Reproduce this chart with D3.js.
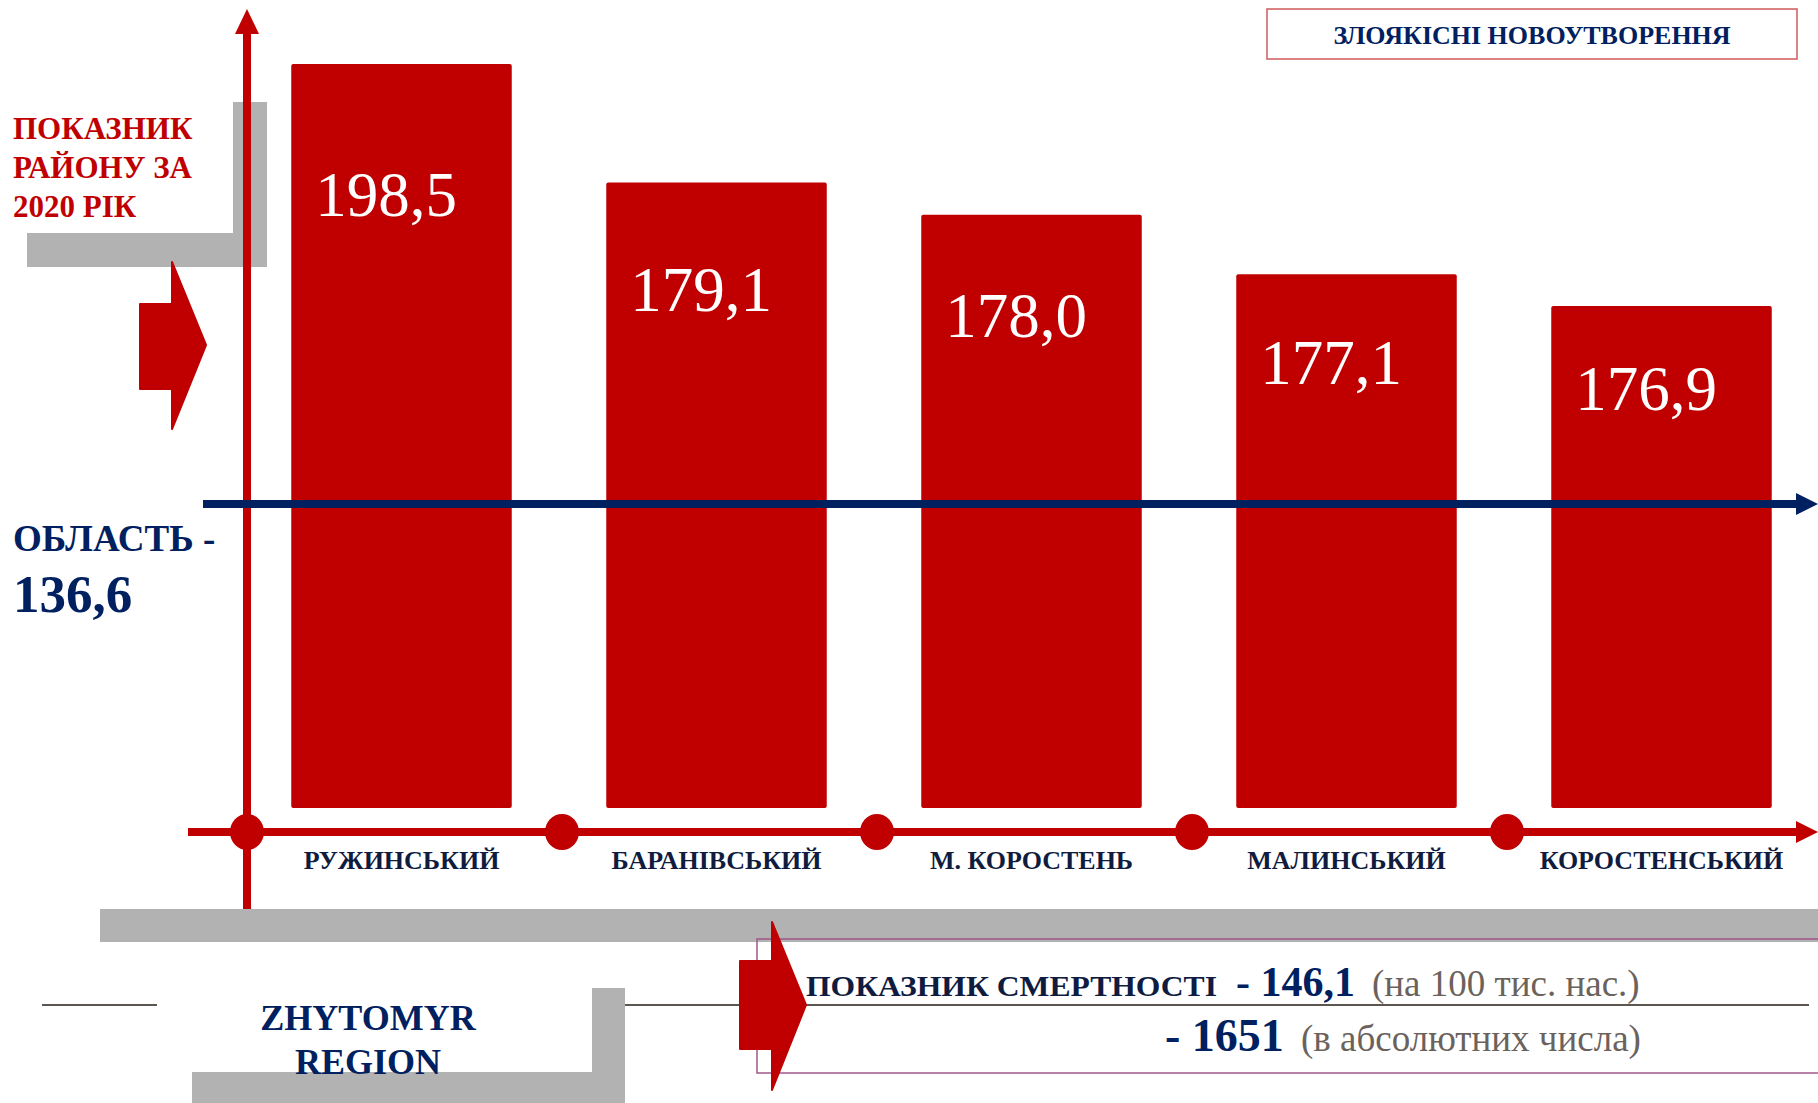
<!DOCTYPE html>
<html>
<head>
<meta charset="utf-8">
<script src="https://cdn.jsdelivr.net/npm/d3@7"></script>
<style>
  body { margin: 0; background: #fff; }
  svg { display: block; font-family: "Liberation Serif", "Times New Roman", serif; }
</style>
</head>
<body>
<svg id="chart" width="1818" height="1103"></svg>
<script>
const districts = ["РУЖИНСЬКИЙ", "БАРАНІВСЬКИЙ", "М. КОРОСТЕНЬ", "МАЛИНСЬКИЙ", "КОРОСТЕНСЬКИЙ"];
const rates = [198.5, 179.1, 178.0, 177.1, 176.9];
const regionRate = 136.6;
const deathRate = 146.1;
const deathCount = 1651;

const red = "#c00000";
const navy = "#002060";
const darkNavy = "#0f1c3f";
const gray = "#b2b2b2";

const svg = d3.select("#chart");
const width = +svg.attr("width");

const data = districts.map((name, i) => ({ name, value: rates[i] }));
const fmt = v => d3.format(".1f")(v).replace(".", ",");

const x = d3.scaleBand()
  .domain(districts)
  .range([244, 1819])
  .paddingInner(0.3)
  .paddingOuter(0.15);

const gapHalf = x.step() * 0.15;
const axisX = x(districts[0]) - gapHalf + 3;
const baseY = 832;
const barBottom = 808;

// bars in the source are a stylised staircase, so heights use a log scale
// over the excess above a floor value instead of a zero-based linear scale
const floorValue = 176.65;
const y = d3.scaleLog()
  .domain([d3.min(rates) - floorValue, d3.max(rates) - floorValue])
  .range([306, 64]);

// grey bracket behind the left caption
svg.append("path")
  .attr("d", "M233,102 H267 V267 H27 V233 H233 Z")
  .attr("fill", gray);

svg.append("text")
  .attr("fill", red)
  .attr("font-weight", "bold")
  .attr("font-size", 31)
  .selectAll("tspan")
  .data(["ПОКАЗНИК", "РАЙОНУ ЗА", "2020 РІК"])
  .enter()
  .append("tspan")
  .attr("x", 13)
  .attr("y", (d, i) => 139 + i * 39)
  .text(d => d);

// left red block arrow
svg.append("path")
  .attr("d", "M140,304 H172 V262 L206,345 L172,429 V389 H140 Z")
  .attr("fill", red)
  .attr("stroke", red)
  .attr("stroke-linejoin", "round")
  .attr("stroke-width", 2);

// vertical axis
svg.append("line")
  .attr("x1", axisX).attr("x2", axisX)
  .attr("y1", 30).attr("y2", 910)
  .attr("stroke", red)
  .attr("stroke-width", 8);

svg.append("path")
  .attr("d", `M${axisX - 12},34 L${axisX},9 L${axisX + 12},34 Z`)
  .attr("fill", red);

// bars
svg.selectAll(".bar")
  .data(data)
  .enter()
  .append("rect")
  .attr("class", "bar")
  .attr("x", d => x(d.name))
  .attr("y", d => y(d.value - floorValue))
  .attr("width", x.bandwidth())
  .attr("height", d => barBottom - y(d.value - floorValue))
  .attr("rx", 2)
  .attr("fill", red);

svg.selectAll(".bar-label")
  .data(data)
  .enter()
  .append("text")
  .attr("class", "bar-label")
  .attr("x", d => x(d.name) + 24)
  .attr("y", d => 0.8 * y(d.value - floorValue) + 165)
  .attr("fill", "#fff")
  .attr("font-size", 63)
  .text(d => fmt(d.value));

// regional level line
svg.append("line")
  .attr("x1", 203).attr("x2", width - 18)
  .attr("y1", 504).attr("y2", 504)
  .attr("stroke", navy)
  .attr("stroke-width", 8);

svg.append("path")
  .attr("d", `M${width - 22},493 L${width},504 L${width - 22},515 Z`)
  .attr("fill", navy);

svg.append("text")
  .attr("x", 13)
  .attr("y", 551)
  .attr("fill", navy)
  .attr("font-weight", "bold")
  .attr("font-size", 37)
  .text("ОБЛАСТЬ -");

svg.append("text")
  .attr("x", 13)
  .attr("y", 612)
  .attr("fill", navy)
  .attr("font-weight", "bold")
  .attr("font-size", 53)
  .text(fmt(regionRate));

// horizontal axis with markers between districts
svg.append("line")
  .attr("x1", 188).attr("x2", width - 18)
  .attr("y1", baseY).attr("y2", baseY)
  .attr("stroke", red)
  .attr("stroke-width", 8);

svg.append("path")
  .attr("d", `M${width - 22},821 L${width},${baseY} L${width - 22},843 Z`)
  .attr("fill", red);

svg.selectAll(".marker")
  .data(districts)
  .enter()
  .append("ellipse")
  .attr("class", "marker")
  .attr("cx", d => x(d) - gapHalf + 3)
  .attr("cy", baseY)
  .attr("rx", 17)
  .attr("ry", 18)
  .attr("fill", red);

svg.selectAll(".cat-label")
  .data(districts)
  .enter()
  .append("text")
  .attr("class", "cat-label")
  .attr("x", d => x(d) + x.bandwidth() / 2)
  .attr("y", 869)
  .attr("text-anchor", "middle")
  .attr("fill", darkNavy)
  .attr("font-weight", "bold")
  .attr("font-size", 26)
  .text(d => d);

// title box
svg.append("rect")
  .attr("x", 1267).attr("y", 9)
  .attr("width", 530).attr("height", 50)
  .attr("fill", "#fff")
  .attr("stroke", "#d05a5a")
  .attr("stroke-width", 1.5);

svg.append("text")
  .attr("x", 1532)
  .attr("y", 44)
  .attr("text-anchor", "middle")
  .attr("fill", navy)
  .attr("font-weight", "bold")
  .attr("font-size", 26)
  .text("ЗЛОЯКІСНІ НОВОУТВОРЕННЯ");

// bottom band
svg.append("rect")
  .attr("x", 100).attr("y", 909)
  .attr("width", width - 100).attr("height", 33)
  .attr("fill", gray);

svg.append("line")
  .attr("x1", 42).attr("x2", 157)
  .attr("y1", 1005).attr("y2", 1005)
  .attr("stroke", "#5c5650")
  .attr("stroke-width", 2);

svg.append("line")
  .attr("x1", 592).attr("x2", 1809)
  .attr("y1", 1005).attr("y2", 1005)
  .attr("stroke", "#5c5650")
  .attr("stroke-width", 2);

svg.append("path")
  .attr("d", "M592,988 H625 V1103 H192 V1072 H592 Z")
  .attr("fill", gray);

svg.append("text")
  .attr("x", 368)
  .attr("text-anchor", "middle")
  .attr("fill", navy)
  .attr("font-weight", "bold")
  .attr("font-size", 36)
  .selectAll("tspan")
  .data(["ZHYTOMYR", "REGION"])
  .enter()
  .append("tspan")
  .attr("x", 368)
  .attr("y", (d, i) => 1030 + i * 44)
  .text(d => d);

// mortality box and arrow
svg.append("rect")
  .attr("x", 757).attr("y", 939)
  .attr("width", width - 757 + 5).attr("height", 134)
  .attr("fill", "none")
  .attr("stroke", "#a0588a")
  .attr("stroke-width", 1.5);

svg.append("path")
  .attr("d", "M740,961 H772 V922 L806,1005 L772,1090 V1049 H740 Z")
  .attr("fill", red)
  .attr("stroke", red)
  .attr("stroke-linejoin", "round")
  .attr("stroke-width", 2);

svg.append("text")
  .attr("x", 806).attr("y", 996)
  .attr("fill", darkNavy)
  .attr("font-weight", "bold")
  .attr("font-size", 30)
  .attr("textLength", 411)
  .attr("lengthAdjust", "spacingAndGlyphs")
  .text("ПОКАЗНИК СМЕРТНОСТІ");

svg.append("text")
  .attr("x", 1236).attr("y", 996)
  .attr("fill", navy)
  .attr("font-weight", "bold")
  .attr("font-size", 42)
  .text("- " + fmt(deathRate));

svg.append("text")
  .attr("x", 1372).attr("y", 996)
  .attr("fill", "#6b625c")
  .attr("font-size", 37)
  .text("(на 100 тис. нас.)");

svg.append("text")
  .attr("x", 1165).attr("y", 1051)
  .attr("fill", navy)
  .attr("font-weight", "bold")
  .attr("font-size", 46)
  .text("- " + deathCount);

svg.append("text")
  .attr("x", 1301).attr("y", 1051)
  .attr("fill", "#6b625c")
  .attr("font-size", 37)
  .text("(в абсолютних числа)");
</script>
</body>
</html>
